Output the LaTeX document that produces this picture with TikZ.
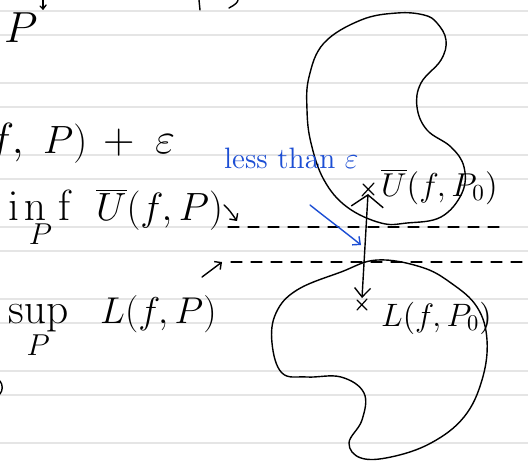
\documentclass[tikz,border=0pt]{standalone}
\usepackage{graphicx}
\usetikzlibrary{arrows.meta,calc}
\definecolor{pen}{RGB}{28,78,212}
\newcommand{\bigtxt}[1]{\scalebox{2.1}{\huge #1}}
\newcommand{\midtxt}[1]{\scalebox{1.9}{\huge #1}}
\newcommand{\labtxt}[1]{\scalebox{2.25}{\Large #1}}
\newcommand{\biglabtxt}[1]{\scalebox{2.3}{\Large #1}}
\newcommand{\bluetxt}[1]{\scalebox{2.05}{\Large #1}}
\begin{document}
\begin{tikzpicture}[x=1pt,y=-1pt,line cap=round,line join=round,
  rule/.style={draw=black!10,line width=2.4pt},
  ink/.style={draw=black,line width=1.4pt},
  blueink/.style={draw=pen,line width=1.4pt},
  hand/.style={inner sep=0pt,anchor=base west},
  bluehand/.style={inner sep=0pt,anchor=base west,text=pen},
  dashline/.style={draw=black,line width=1.3pt,dash pattern=on 11pt off 9pt},
  crossmark/.style={ink,line width=1.2pt}]
\useasboundingbox (0,0) rectangle (528,461);
\clip (0,0) rectangle (528,461);
\fill[white] (0,0) rectangle (528,461);
% ruled notebook lines
\foreach \k in {0,...,6}{
  \draw[rule] (0,11+72*\k) -- (528,11+72*\k);
  \draw[rule] (0,35+72*\k) -- (528,35+72*\k);
}
% fragments of text cut at the top and left
\draw[ink] (43,0) -- (43,9);
\draw[ink] (40,6) -- (43,9) -- (46,5);
\draw[ink] (199,0) -- (200,10);
\draw[ink] (229,8) .. controls (235,5) and (238,2) .. (238,0);
\draw[ink] (0,381) .. controls (3,385) and (3,390) .. (0,394);
% left column of formulas
\node[hand] (ptop) at (4,42) {\bigtxt{$P$}};
\node[hand,anchor=base east] (upf) at (24,153) {\bigtxt{$f,$}};
\node[hand] (upp) at (43,153) {\midtxt{$P)$}};
\node[hand] (upplus) at (103,153) {\bigtxt{$+$}};
\node[hand] (upeps) at (155,153) {\bigtxt{$\varepsilon$}};
\node[hand] (inf) at (8,220) {\bigtxt{$\mathop{\mathrm{i\mkern2mu n\mkern5mu f}}\limits_{P}$}};
\node[hand] (ufp) at (96,220) {\midtxt{$\overline{U}(f,P)$}};
\node[hand] (sup) at (8,323) {\bigtxt{$\sup\limits_{P}$}};
\node[hand] (lfp) at (100,323) {\scalebox{1.8}{\huge $L(f,P)$}};
% dashed levels
\coordinate (d1a) at (228,227);
\coordinate (d1b) at (507,227);
\coordinate (d2a) at (231,262);
\coordinate (d2b) at (528,262);
\draw[dashline] (d1a) -- (d1b);
\draw[dashline] (d2a) -- (d2b);
% small pointer arrows from the formulas to the dashed levels
\coordinate (p1) at (224,205);
\coordinate (p1e) at (237,221);
\coordinate (p2) at (202,277);
\coordinate (p2e) at (222,262);
\draw[ink,-{Straight Barb[length=5pt,width=10pt]}] (p1) .. controls (229,209) and (232,214) .. (p1e);
\draw[ink,-{Straight Barb[length=5pt,width=10pt]}] (p2) -- (p2e);
% upper blob (set of upper sums)
\draw[ink] plot[smooth cycle,tension=0.65] coordinates {
 (397,13) (361,20) (324,43) (309,77) (307,110) (311,143) (324,180) (347,207)
 (381,223) (407,223) (441,217) (462,193) (464,167) (451,147) (427,130)
 (417,107) (421,83) (441,60) (446,40) (437,23) (424,15)};
% lower blob (set of lower sums)
\draw[ink] plot[smooth cycle,tension=0.65] coordinates {
 (377,260) (341,272) (297,290) (276,313) (272,343) (282,373) (307,377)
 (341,377) (364,393) (362,420) (349,443) (361,458) (391,457) (431,443)
 (464,417) (482,380) (487,340) (477,307) (451,283) (421,267)};
% crosses
\coordinate (ux) at (368,190);
\coordinate (lx) at (362,305);
\draw[crossmark] (363,184) -- (374,195) (374,183) -- (362,196);
\draw[crossmark] (357,300) -- (367,310) (367,299) -- (357,310);
% labels
\node[hand] (ulab) at (381,196) {\biglabtxt{$\overline{U}(f,P_0)$}};
\node[hand] (llab) at (381,326) {\labtxt{$L(f,P_0)$}};
% gap arrow between U(f,P0) and L(f,P0)
\draw[ink,{Straight Barb[length=12pt,width=32pt]}-{Straight Barb[length=9pt,width=16pt]}] ($(ux)+(0,4)$) -- ($(lx)+(0,-7)$);
% blue annotation
\node[bluehand] (less) at (224,168) {\bluetxt{less than $\varepsilon$}};
\coordinate (bt) at (361,245);
\draw[blueink,-{Straight Barb[length=6pt,width=11pt]}] (310,205) .. controls (325,217) and (345,232) .. (bt);
\end{tikzpicture}
\end{document}
